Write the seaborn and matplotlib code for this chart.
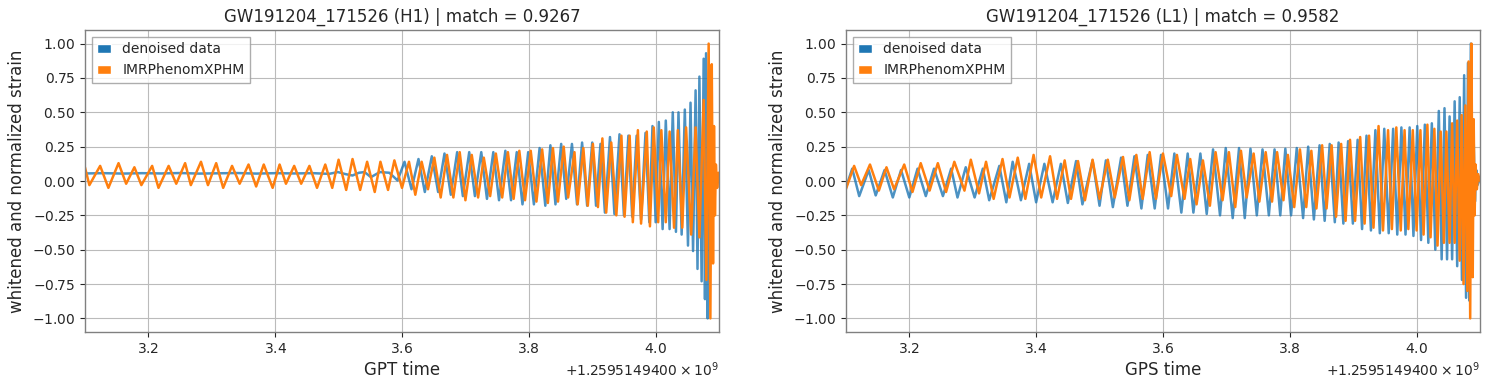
import numpy as np
import pandas as pd
import seaborn as sns
import matplotlib.pyplot as plt
from matplotlib.patches import Patch
from matplotlib.ticker import ScalarFormatter

# GPS offset of the time axis; times below are seconds after it
gps_base = 1259514940

# H1: whitened strain extremes (time, value)
h1_data_t = [3.100, 3.130, 3.160, 3.190, 3.220, 3.250, 3.280, 3.310, 3.340, 3.370,
             3.400, 3.430, 3.460, 3.485, 3.499, 3.511, 3.522, 3.532, 3.541, 3.551,
             3.565, 3.580, 3.593, 3.604, 3.615, 3.626, 3.636, 3.647, 3.657, 3.667,
             3.677, 3.687, 3.696, 3.706, 3.715, 3.725, 3.734, 3.744, 3.753, 3.763,
             3.772, 3.781, 3.790, 3.799, 3.808, 3.817, 3.826, 3.834, 3.842, 3.851,
             3.859, 3.868, 3.876, 3.884, 3.892, 3.900, 3.906, 3.913, 3.920, 3.928,
             3.935, 3.943, 3.950, 3.957, 3.963, 3.970, 3.977, 3.984, 3.990, 3.995,
             4.000, 4.005, 4.011, 4.016, 4.022, 4.027, 4.032, 4.036, 4.041, 4.046,
             4.051, 4.055, 4.059, 4.063, 4.066, 4.069, 4.0725, 4.0757, 4.0778, 4.0795,
             4.082, 4.084, 4.086, 4.088, 4.090, 4.093, 4.096, 4.100]
h1_data_v = [0.055, 0.057, 0.054, 0.057, 0.055, 0.058, 0.054, 0.056, 0.058, 0.054,
             0.057, 0.055, 0.057, 0.052, 0.065, 0.050, 0.040, 0.060, 0.065, 0.028,
             0.065, 0.060, 0.004, 0.14, -0.06, 0.16, -0.08, 0.18, -0.08, 0.20,
             -0.10, 0.21, -0.11, 0.21, -0.11, 0.21, -0.13, 0.21, -0.14, 0.22,
             -0.14, 0.21, -0.17, 0.21, -0.17, 0.24, -0.18, 0.26, -0.17, 0.27,
             -0.13, 0.27, -0.17, 0.28, -0.18, 0.28, -0.18, 0.27, -0.23, 0.32,
             -0.24, 0.34, -0.25, 0.33, -0.26, 0.33, -0.28, 0.35, -0.30, 0.40,
             -0.30, 0.43, -0.35, 0.44, -0.35, 0.50, -0.37, 0.50, -0.39, 0.52,
             -0.47, 0.57, -0.51, 0.66, -0.64, 0.76, -0.73, 0.89, -0.86, 0.93,
             -1.00, 0.40, -0.30, 0.15, -0.05, 0.05, -0.02, 0.01]

h1_model_t = [3.100, 3.107, 3.124, 3.137, 3.153, 3.165, 3.178, 3.189, 3.206, 3.216,
              3.232, 3.244, 3.258, 3.267, 3.283, 3.294, 3.307, 3.318, 3.332, 3.344,
              3.358, 3.370, 3.382, 3.396, 3.407, 3.417, 3.430, 3.441, 3.454, 3.466,
              3.479, 3.490, 3.500, 3.512, 3.522, 3.534, 3.545, 3.557, 3.566, 3.578,
              3.588, 3.600, 3.611, 3.621, 3.631, 3.641, 3.651, 3.661, 3.671, 3.681,
              3.691, 3.700, 3.710, 3.720, 3.729, 3.739, 3.748, 3.758, 3.767, 3.776,
              3.785, 3.794, 3.803, 3.812, 3.821, 3.830, 3.838, 3.846, 3.855, 3.862,
              3.872, 3.877, 3.886, 3.893, 3.901, 3.909, 3.916, 3.922, 3.930, 3.938,
              3.946, 3.951, 3.959, 3.964, 3.972, 3.977, 3.986, 3.991, 3.997, 4.004,
              4.009, 4.016, 4.022, 4.029, 4.035, 4.042, 4.048, 4.056, 4.063, 4.069,
              4.0757, 4.080, 4.0836, 4.0863, 4.0885, 4.0905, 4.092, 4.0935, 4.095, 4.097,
              4.099, 4.100]
h1_model_v = [0.10, -0.03, 0.11, -0.05, 0.13, -0.02, 0.10, -0.03, 0.11, -0.05,
              0.11, -0.02, 0.13, -0.03, 0.14, -0.03, 0.13, -0.05, 0.11, -0.02,
              0.12, -0.04, 0.12, -0.05, 0.12, -0.02, 0.11, -0.02, 0.11, -0.05,
              0.12, -0.05, 0.155, -0.065, 0.16, -0.065, 0.14, -0.08, 0.14, -0.065,
              0.15, -0.05, 0.14, -0.10, 0.14, -0.06, 0.17, -0.12, 0.19, -0.12,
              0.21, -0.14, 0.19, -0.12, 0.17, -0.11, 0.20, -0.12, 0.21, -0.13,
              0.22, -0.14, 0.22, -0.15, 0.23, -0.16, 0.24, -0.15, 0.25, -0.12,
              0.21, -0.17, 0.24, -0.18, 0.27, -0.19, 0.31, -0.23, 0.28, -0.25,
              0.33, -0.26, 0.33, -0.30, 0.37, -0.31, 0.36, -0.33, 0.39, -0.30,
              0.37, -0.30, 0.36, -0.34, 0.37, -0.34, 0.39, -0.39, 0.39, -0.41,
              0.59, -0.72, 1.00, -1.00, 0.85, -0.60, 0.40, -0.25, 0.12, -0.05,
              0.06, 0.02]

# L1
l1_data_t = [3.100, 3.110, 3.121, 3.136, 3.147, 3.161, 3.174, 3.187, 3.200, 3.213,
             3.226, 3.239, 3.253, 3.266, 3.276, 3.289, 3.303, 3.316, 3.326, 3.342,
             3.353, 3.363, 3.376, 3.389, 3.400, 3.413, 3.426, 3.439, 3.450, 3.463,
             3.473, 3.489, 3.500, 3.510, 3.521, 3.534, 3.544, 3.555, 3.566, 3.576,
             3.587, 3.597, 3.608, 3.618, 3.629, 3.639, 3.648, 3.659, 3.669, 3.679,
             3.690, 3.699, 3.710, 3.720, 3.729, 3.738, 3.748, 3.757, 3.767, 3.776,
             3.785, 3.793, 3.802, 3.811, 3.821, 3.829, 3.838, 3.847, 3.855, 3.863,
             3.871, 3.877, 3.8845, 3.892, 3.8995, 3.907, 3.914, 3.921, 3.928, 3.935,
             3.942, 3.949, 3.956, 3.963, 3.9695, 3.976, 3.9825, 3.989, 3.995, 4.001,
             4.007, 4.013, 4.0185, 4.024, 4.0295, 4.035, 4.0395, 4.044, 4.048, 4.052,
             4.056, 4.060, 4.064, 4.068, 4.0715, 4.075, 4.078, 4.081, 4.083, 4.0855,
             4.088, 4.090, 4.092, 4.094, 4.096, 4.100]
l1_data_v = [-0.05, 0.09, -0.11, 0.08, -0.105, 0.08, -0.12, 0.08, -0.12, 0.09,
             -0.11, 0.09, -0.11, 0.09, -0.12, 0.10, -0.12, 0.09, -0.14, 0.11,
             -0.155, 0.14, -0.14, 0.125, -0.155, 0.125, -0.155, 0.125, -0.16, 0.145,
             -0.17, 0.15, -0.18, 0.15, -0.19, 0.17, -0.18, 0.18, -0.20, 0.19,
             -0.20, 0.19, -0.20, 0.20, -0.23, 0.20, -0.23, 0.20, -0.24, 0.23,
             -0.25, 0.24, -0.27, 0.24, -0.27, 0.235, -0.25, 0.23, -0.25, 0.23,
             -0.25, 0.235, -0.25, 0.24, -0.27, 0.25, -0.28, 0.26, -0.29, 0.27,
             -0.30, 0.28, -0.31, 0.29, -0.31, 0.30, -0.35, 0.33, -0.36, 0.37,
             -0.38, 0.38, -0.38, 0.38, -0.39, 0.39, -0.39, 0.39, -0.40, 0.40,
             -0.43, 0.41, -0.45, 0.42, -0.50, 0.51, -0.57, 0.53, -0.57, 0.47,
             -0.57, 0.58, -0.62, 0.61, -0.72, 0.77, -0.85, 0.86, -0.87, 1.00,
             -0.50, 0.30, -0.15, 0.08, -0.03, 0.02]

l1_model_t = [3.100, 3.113, 3.124, 3.138, 3.152, 3.164, 3.176, 3.192, 3.205, 3.218,
              3.232, 3.245, 3.258, 3.271, 3.287, 3.297, 3.310, 3.321, 3.333, 3.347,
              3.358, 3.371, 3.383, 3.396, 3.408, 3.422, 3.433, 3.445, 3.455, 3.466,
              3.477, 3.489, 3.500, 3.513, 3.524, 3.537, 3.547, 3.558, 3.568, 3.579,
              3.589, 3.600, 3.613, 3.622, 3.634, 3.643, 3.653, 3.663, 3.674, 3.683,
              3.694, 3.704, 3.714, 3.723, 3.732, 3.743, 3.752, 3.762, 3.772, 3.780,
              3.790, 3.797, 3.807, 3.816, 3.826, 3.834, 3.842, 3.851, 3.858, 3.866,
              3.873, 3.881, 3.888, 3.895, 3.903, 3.911, 3.918, 3.925, 3.932, 3.940,
              3.947, 3.955, 3.961, 3.968, 3.975, 3.981, 3.987, 3.994, 4.000, 4.006,
              4.011, 4.017, 4.022, 4.028, 4.033, 4.038, 4.043, 4.047, 4.052, 4.056,
              4.060, 4.064, 4.068, 4.071, 4.074, 4.077, 4.080, 4.082, 4.0845, 4.0865,
              4.0885, 4.090, 4.0915, 4.093, 4.095, 4.097, 4.100]
l1_model_v = [-0.06, 0.11, -0.03, 0.12, -0.07, 0.10, -0.06, 0.12, -0.08, 0.13,
              -0.07, 0.13, -0.08, 0.14, -0.07, 0.155, -0.09, 0.14, -0.13, 0.16,
              -0.12, 0.17, -0.13, 0.19, -0.12, 0.18, -0.13, 0.15, -0.13, 0.145,
              -0.14, 0.155, -0.13, 0.155, -0.12, 0.175, -0.14, 0.19, -0.13, 0.21,
              -0.13, 0.20, -0.11, 0.19, -0.13, 0.16, -0.17, 0.15, -0.18, 0.21,
              -0.14, 0.21, -0.19, 0.22, -0.12, 0.20, -0.15, 0.21, -0.15, 0.21,
              -0.14, 0.19, -0.19, 0.23, -0.19, 0.22, -0.20, 0.26, -0.20, 0.26,
              -0.26, 0.27, -0.29, 0.30, -0.29, 0.32, -0.31, 0.33, -0.34, 0.40,
              -0.36, 0.37, -0.35, 0.39, -0.36, 0.37, -0.35, 0.37, -0.36, 0.37,
              -0.39, 0.41, -0.41, 0.38, -0.47, 0.36, -0.45, 0.36, -0.45, 0.42,
              -0.45, 0.44, -0.58, 0.48, -0.75, 0.55, -0.80, 0.87, -1.00, 1.00,
              -0.70, 0.45, -0.25, 0.12, -0.06, 0.05, 0.00]

panels = [
    ("GW191204_171526 (H1) | match = 0.9267", "GPT time", h1_data_t, h1_data_v, h1_model_t, h1_model_v),
    ("GW191204_171526 (L1) | match = 0.9582", "GPS time", l1_data_t, l1_data_v, l1_model_t, l1_model_v),
]


class GPSFormatter(ScalarFormatter):
    # offset printed with the full 10 decimals, e.g. +1.2595149400 x 10^9
    def get_offset(self):
        if not self.offset:
            return ''
        exp = int(np.floor(np.log10(abs(self.offset))))
        mant = self.offset / 10 ** exp
        return r'$+%.10f\times10^{%d}$' % (mant, exp)


sns.set_theme(style="ticks", context="notebook", rc={
    "axes.grid": True,
    "grid.color": "#bbbbbb",
    "grid.linewidth": 0.8,
    "axes.edgecolor": "0.5",
    "axes.linewidth": 1.0,
    "axes.titlesize": 12,
    "axes.labelsize": 12,
    "xtick.labelsize": 10,
    "ytick.labelsize": 10,
    "legend.fontsize": 10,
    "xtick.major.size": 3.5,
    "ytick.major.size": 3.5,
    "xtick.major.width": 0.8,
    "ytick.major.width": 0.8,
    "axes.formatter.use_mathtext": True,
})
plt.rcParams['font.family'] = ['DejaVu Sans']

fig, axes = plt.subplots(1, 2, figsize=(14.9, 3.88), dpi=100)
fig.subplots_adjust(left=0.057, right=0.9933, bottom=0.144, top=0.923, wspace=0.2)

blue = "#1f77b4"
orange = "#ff7f0e"

for ax, (title, xlabel, dt, dv, mt, mv) in zip(axes, panels):
    data = pd.DataFrame({"time": gps_base + np.array(dt), "strain": dv})
    model = pd.DataFrame({"time": gps_base + np.array(mt), "strain": mv})
    sns.lineplot(data=data, x="time", y="strain", ax=ax, color=blue, alpha=0.8,
                 lw=1.8, estimator=None, sort=False)
    sns.lineplot(data=model, x="time", y="strain", ax=ax, color=orange,
                 lw=1.8, estimator=None, sort=False)
    ax.xaxis.set_major_formatter(GPSFormatter(useMathText=True))
    ax.set_xlim(gps_base + 3.1, gps_base + 4.1)
    ax.set_ylim(-1.1, 1.1)
    ax.set_yticks(np.arange(-1.0, 1.01, 0.25))
    ax.set_title(title)
    ax.set_xlabel(xlabel)
    ax.set_ylabel("whitened and normalized strain")
    handles = [Patch(facecolor=blue, label="denoised data"),
               Patch(facecolor=orange, label="IMRPhenomXPHM")]
    ax.legend(handles=handles, loc="upper left", handlelength=1.0,
              fancybox=False, edgecolor="0.6", framealpha=0.8)

fig.savefig("out.png", dpi=100)
